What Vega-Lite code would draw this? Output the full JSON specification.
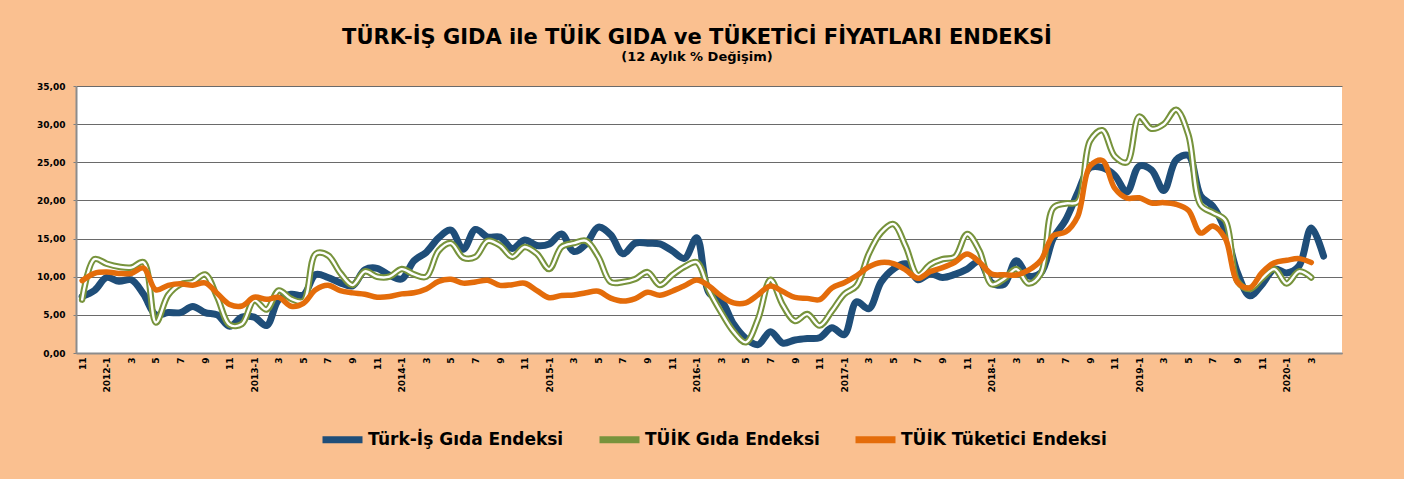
{
  "$schema": "https://vega.github.io/schema/vega-lite/v6.json",
  "width": 1266,
  "height": 267,
  "autosize": {"type": "none"},
  "padding": {"left": 76, "top": 86, "right": 62, "bottom": 126},
  "background": "#FAC090",
  "title": {
    "text": "TÜRK-İŞ GIDA ile TÜİK GIDA ve TÜKETİCİ FİYATLARI  ENDEKSİ",
    "subtitle": "(12 Aylık  % Değişim)",
    "font": "DejaVu Sans", "fontSize": 21, "fontWeight": "bold", "color": "#000000",
    "subtitleFont": "DejaVu Sans", "subtitleFontSize": 13, "subtitleFontWeight": "bold", "subtitleColor": "#000000",
    "anchor": "middle", "offset": 18, "dx": -12, "subtitlePadding": 3
  },
  "data": {"values": [
    {"ay": "2011-11", "turkis": 7.4, "tuik_gida": 7.0, "tuik_tufe": 9.48},
    {"ay": "2011-12", "turkis": 8.2, "tuik_gida": 12.3, "tuik_tufe": 10.45},
    {"ay": "2012-1", "turkis": 9.9, "tuik_gida": 11.7, "tuik_tufe": 10.61},
    {"ay": "2012-2", "turkis": 9.4, "tuik_gida": 11.3, "tuik_tufe": 10.43},
    {"ay": "2012-3", "turkis": 9.6, "tuik_gida": 11.2, "tuik_tufe": 10.43},
    {"ay": "2012-4", "turkis": 7.7, "tuik_gida": 11.9, "tuik_tufe": 11.14},
    {"ay": "2012-5", "turkis": 5.0, "tuik_gida": 4.0, "tuik_tufe": 8.28},
    {"ay": "2012-6", "turkis": 5.3, "tuik_gida": 7.6, "tuik_tufe": 8.87},
    {"ay": "2012-7", "turkis": 5.3, "tuik_gida": 9.0, "tuik_tufe": 9.07},
    {"ay": "2012-8", "turkis": 6.1, "tuik_gida": 9.3, "tuik_tufe": 8.88},
    {"ay": "2012-9", "turkis": 5.3, "tuik_gida": 10.3, "tuik_tufe": 9.19},
    {"ay": "2012-10", "turkis": 5.0, "tuik_gida": 7.3, "tuik_tufe": 7.80},
    {"ay": "2012-11", "turkis": 3.5, "tuik_gida": 3.7, "tuik_tufe": 6.37},
    {"ay": "2012-12", "turkis": 4.7, "tuik_gida": 3.8, "tuik_tufe": 6.16},
    {"ay": "2013-1", "turkis": 4.7, "tuik_gida": 6.9, "tuik_tufe": 7.31},
    {"ay": "2013-2", "turkis": 3.6, "tuik_gida": 5.7, "tuik_tufe": 7.03},
    {"ay": "2013-3", "turkis": 7.0, "tuik_gida": 8.2, "tuik_tufe": 7.29},
    {"ay": "2013-4", "turkis": 7.7, "tuik_gida": 7.1, "tuik_tufe": 6.13},
    {"ay": "2013-5", "turkis": 7.6, "tuik_gida": 6.8, "tuik_tufe": 6.51},
    {"ay": "2013-6", "turkis": 10.3, "tuik_gida": 13.0, "tuik_tufe": 8.30},
    {"ay": "2013-7", "turkis": 9.9, "tuik_gida": 12.8, "tuik_tufe": 8.88},
    {"ay": "2013-8", "turkis": 9.2, "tuik_gida": 10.5, "tuik_tufe": 8.17},
    {"ay": "2013-9", "turkis": 8.8, "tuik_gida": 8.9, "tuik_tufe": 7.88},
    {"ay": "2013-10", "turkis": 10.9, "tuik_gida": 10.7, "tuik_tufe": 7.71},
    {"ay": "2013-11", "turkis": 11.1, "tuik_gida": 10.0, "tuik_tufe": 7.32},
    {"ay": "2013-12", "turkis": 10.2, "tuik_gida": 10.0, "tuik_tufe": 7.40},
    {"ay": "2014-1", "turkis": 9.7, "tuik_gida": 11.0, "tuik_tufe": 7.75},
    {"ay": "2014-2", "turkis": 12.1, "tuik_gida": 10.3, "tuik_tufe": 7.89},
    {"ay": "2014-3", "turkis": 13.2, "tuik_gida": 10.0, "tuik_tufe": 8.39},
    {"ay": "2014-4", "turkis": 15.1, "tuik_gida": 13.4, "tuik_tufe": 9.38},
    {"ay": "2014-5", "turkis": 16.1, "tuik_gida": 14.4, "tuik_tufe": 9.66},
    {"ay": "2014-6", "turkis": 13.6, "tuik_gida": 12.5, "tuik_tufe": 9.16},
    {"ay": "2014-7", "turkis": 16.2, "tuik_gida": 12.6, "tuik_tufe": 9.32},
    {"ay": "2014-8", "turkis": 15.2, "tuik_gida": 14.7, "tuik_tufe": 9.54},
    {"ay": "2014-9", "turkis": 15.2, "tuik_gida": 14.1, "tuik_tufe": 8.86},
    {"ay": "2014-10", "turkis": 13.7, "tuik_gida": 12.6, "tuik_tufe": 8.96},
    {"ay": "2014-11", "turkis": 14.8, "tuik_gida": 13.9, "tuik_tufe": 9.15},
    {"ay": "2014-12", "turkis": 14.1, "tuik_gida": 13.0, "tuik_tufe": 8.17},
    {"ay": "2015-1", "turkis": 14.3, "tuik_gida": 11.0, "tuik_tufe": 7.24},
    {"ay": "2015-2", "turkis": 15.6, "tuik_gida": 13.9, "tuik_tufe": 7.55},
    {"ay": "2015-3", "turkis": 13.3, "tuik_gida": 14.4, "tuik_tufe": 7.61},
    {"ay": "2015-4", "turkis": 14.3, "tuik_gida": 14.7, "tuik_tufe": 7.91},
    {"ay": "2015-5", "turkis": 16.5, "tuik_gida": 12.6, "tuik_tufe": 8.09},
    {"ay": "2015-6", "turkis": 15.5, "tuik_gida": 9.3, "tuik_tufe": 7.20},
    {"ay": "2015-7", "turkis": 13.0, "tuik_gida": 9.3, "tuik_tufe": 6.81},
    {"ay": "2015-8", "turkis": 14.4, "tuik_gida": 9.7, "tuik_tufe": 7.14},
    {"ay": "2015-9", "turkis": 14.4, "tuik_gida": 10.6, "tuik_tufe": 7.95},
    {"ay": "2015-10", "turkis": 14.3, "tuik_gida": 8.9, "tuik_tufe": 7.58},
    {"ay": "2015-11", "turkis": 13.4, "tuik_gida": 10.2, "tuik_tufe": 8.10},
    {"ay": "2015-12", "turkis": 12.4, "tuik_gida": 11.3, "tuik_tufe": 8.81},
    {"ay": "2016-1", "turkis": 15.1, "tuik_gida": 11.9, "tuik_tufe": 9.58},
    {"ay": "2016-2", "turkis": 7.9, "tuik_gida": 8.2, "tuik_tufe": 8.78},
    {"ay": "2016-3", "turkis": 6.9, "tuik_gida": 5.3, "tuik_tufe": 7.46},
    {"ay": "2016-4", "turkis": 3.8, "tuik_gida": 2.8, "tuik_tufe": 6.57},
    {"ay": "2016-5", "turkis": 1.9, "tuik_gida": 1.4, "tuik_tufe": 6.58},
    {"ay": "2016-6", "turkis": 1.1, "tuik_gida": 4.5, "tuik_tufe": 7.64},
    {"ay": "2016-7", "turkis": 2.8, "tuik_gida": 9.6, "tuik_tufe": 8.79},
    {"ay": "2016-8", "turkis": 1.3, "tuik_gida": 6.3, "tuik_tufe": 8.05},
    {"ay": "2016-9", "turkis": 1.7, "tuik_gida": 4.2, "tuik_tufe": 7.28},
    {"ay": "2016-10", "turkis": 1.9, "tuik_gida": 5.1, "tuik_tufe": 7.16},
    {"ay": "2016-11", "turkis": 2.0, "tuik_gida": 3.6, "tuik_tufe": 7.00},
    {"ay": "2016-12", "turkis": 3.3, "tuik_gida": 5.5, "tuik_tufe": 8.53},
    {"ay": "2017-1", "turkis": 2.4, "tuik_gida": 7.7, "tuik_tufe": 9.22},
    {"ay": "2017-2", "turkis": 6.7, "tuik_gida": 8.8, "tuik_tufe": 10.13},
    {"ay": "2017-3", "turkis": 5.8, "tuik_gida": 13.0, "tuik_tufe": 11.29},
    {"ay": "2017-4", "turkis": 9.3, "tuik_gida": 15.8, "tuik_tufe": 11.87},
    {"ay": "2017-5", "turkis": 11.0, "tuik_gida": 16.9, "tuik_tufe": 11.72},
    {"ay": "2017-6", "turkis": 11.7, "tuik_gida": 14.0, "tuik_tufe": 10.90},
    {"ay": "2017-7", "turkis": 9.6, "tuik_gida": 10.2, "tuik_tufe": 9.79},
    {"ay": "2017-8", "turkis": 10.4, "tuik_gida": 11.6, "tuik_tufe": 10.68},
    {"ay": "2017-9", "turkis": 9.9, "tuik_gida": 12.3, "tuik_tufe": 11.20},
    {"ay": "2017-10", "turkis": 10.3, "tuik_gida": 12.6, "tuik_tufe": 11.90},
    {"ay": "2017-11", "turkis": 11.0, "tuik_gida": 15.6, "tuik_tufe": 12.98},
    {"ay": "2017-12", "turkis": 12.0, "tuik_gida": 13.4, "tuik_tufe": 11.92},
    {"ay": "2018-1", "turkis": 9.2, "tuik_gida": 9.0, "tuik_tufe": 10.35},
    {"ay": "2018-2", "turkis": 9.0, "tuik_gida": 9.7, "tuik_tufe": 10.26},
    {"ay": "2018-3", "turkis": 12.1, "tuik_gida": 11.0, "tuik_tufe": 10.23},
    {"ay": "2018-4", "turkis": 10.1, "tuik_gida": 9.1, "tuik_tufe": 10.85},
    {"ay": "2018-5", "turkis": 10.5, "tuik_gida": 10.4, "tuik_tufe": 12.15},
    {"ay": "2018-6", "turkis": 15.0, "tuik_gida": 19.0, "tuik_tufe": 15.39},
    {"ay": "2018-7", "turkis": 17.4, "tuik_gida": 19.6, "tuik_tufe": 15.85},
    {"ay": "2018-8", "turkis": 21.0, "tuik_gida": 19.8, "tuik_tufe": 17.90},
    {"ay": "2018-9", "turkis": 24.3, "tuik_gida": 27.8, "tuik_tufe": 24.52},
    {"ay": "2018-10", "turkis": 24.3, "tuik_gida": 29.2, "tuik_tufe": 25.24},
    {"ay": "2018-11", "turkis": 23.3, "tuik_gida": 25.8, "tuik_tufe": 21.62},
    {"ay": "2018-12", "turkis": 21.1, "tuik_gida": 25.0, "tuik_tufe": 20.30},
    {"ay": "2019-1", "turkis": 24.5, "tuik_gida": 31.0, "tuik_tufe": 20.35},
    {"ay": "2019-2", "turkis": 24.0, "tuik_gida": 29.4, "tuik_tufe": 19.67},
    {"ay": "2019-3", "turkis": 21.3, "tuik_gida": 30.0, "tuik_tufe": 19.71},
    {"ay": "2019-4", "turkis": 25.3, "tuik_gida": 31.9, "tuik_tufe": 19.50},
    {"ay": "2019-5", "turkis": 25.9, "tuik_gida": 28.6, "tuik_tufe": 18.71},
    {"ay": "2019-6", "turkis": 20.6, "tuik_gida": 19.4, "tuik_tufe": 15.72},
    {"ay": "2019-7", "turkis": 19.2, "tuik_gida": 18.4, "tuik_tufe": 16.65},
    {"ay": "2019-8", "turkis": 16.1, "tuik_gida": 17.4, "tuik_tufe": 15.01},
    {"ay": "2019-9", "turkis": 10.5, "tuik_gida": 9.4, "tuik_tufe": 9.26},
    {"ay": "2019-10", "turkis": 7.5, "tuik_gida": 8.4, "tuik_tufe": 8.55},
    {"ay": "2019-11", "turkis": 9.0, "tuik_gida": 9.8, "tuik_tufe": 10.56},
    {"ay": "2019-12", "turkis": 11.0, "tuik_gida": 11.0, "tuik_tufe": 11.84},
    {"ay": "2020-1", "turkis": 10.5, "tuik_gida": 9.1, "tuik_tufe": 12.15},
    {"ay": "2020-2", "turkis": 11.4, "tuik_gida": 10.7, "tuik_tufe": 12.37},
    {"ay": "2020-3", "turkis": 16.4, "tuik_gida": 9.9, "tuik_tufe": 11.86},
    {"ay": "2020-4", "turkis": 12.7, "tuik_gida": null, "tuik_tufe": null}
  ]},
  "transform": [
    {"fold": ["turkis", "tuik_gida", "tuik_tufe"], "as": ["seri", "deger"]},
    {"filter": "isValid(datum.deger)"}
  ],
  "encoding": {
    "x": {
      "field": "ay", "type": "ordinal",
      "scale": {"type": "point", "padding": 0.5, "domain": [
        "2011-11","2011-12",
        "2012-1","2012-2","2012-3","2012-4","2012-5","2012-6","2012-7","2012-8","2012-9","2012-10","2012-11","2012-12",
        "2013-1","2013-2","2013-3","2013-4","2013-5","2013-6","2013-7","2013-8","2013-9","2013-10","2013-11","2013-12",
        "2014-1","2014-2","2014-3","2014-4","2014-5","2014-6","2014-7","2014-8","2014-9","2014-10","2014-11","2014-12",
        "2015-1","2015-2","2015-3","2015-4","2015-5","2015-6","2015-7","2015-8","2015-9","2015-10","2015-11","2015-12",
        "2016-1","2016-2","2016-3","2016-4","2016-5","2016-6","2016-7","2016-8","2016-9","2016-10","2016-11","2016-12",
        "2017-1","2017-2","2017-3","2017-4","2017-5","2017-6","2017-7","2017-8","2017-9","2017-10","2017-11","2017-12",
        "2018-1","2018-2","2018-3","2018-4","2018-5","2018-6","2018-7","2018-8","2018-9","2018-10","2018-11","2018-12",
        "2019-1","2019-2","2019-3","2019-4","2019-5","2019-6","2019-7","2019-8","2019-9","2019-10","2019-11","2019-12",
        "2020-1","2020-2","2020-3","2020-4","2020-5"
      ]},
      "axis": {
        "title": null, "labelAngle": 270, "labelFontSize": 9, "ticks": false, "labelPadding": 4,
        "grid": false, "labelOverlap": false, "domainColor": "#8c8c8c", "domainWidth": 2,
        "labelExpr": "datum.value == '2020-5' ? '' : (toNumber(split(datum.value, '-')[1]) % 2 == 0 ? '' : (split(datum.value, '-')[1] == '1' ? datum.value : split(datum.value, '-')[1]))"
      }
    },
    "y": {
      "field": "deger", "type": "quantitative",
      "scale": {"domain": [0, 35], "nice": false, "zero": true},
      "axis": {
        "title": null, "values": [0, 5, 10, 15, 20, 25, 30, 35],
        "labelExpr": "replace(format(datum.value, '.2f'), '.', ',')",
        "labelFontSize": 9, "tickSize": 3, "tickColor": "#7f7f7f", "labelPadding": 8,
        "grid": true, "gridColor": "#6a6a6a", "gridWidth": 1, "domainColor": "#8c8c8c", "domainWidth": 2
      }
    }
  },
  "layer": [
    {
      "transform": [{"filter": "datum.seri == 'turkis'"}],
      "mark": {"type": "line", "interpolate": "catmull-rom", "strokeWidth": 7, "strokeCap": "round", "strokeJoin": "round"},
      "encoding": {"color": {"field": "seri", "type": "nominal",
        "scale": {"domain": ["turkis", "tuik_gida", "tuik_tufe"], "range": ["#1F4E79", "#77933C", "#E46C0A"]},
        "legend": {"orient": "none", "legendX": 243, "legendY": 330, "direction": "horizontal", "title": null,
          "symbolType": "stroke", "symbolSize": 1600, "symbolStrokeWidth": 7,
          "labelFont": "DejaVu Sans", "labelFontWeight": "bold", "labelFontSize": 17, "labelColor": "#000000",
          "labelLimit": 400, "labelOffset": 2, "columnPadding": 21,
          "labelExpr": "datum.label == 'turkis' ? 'Türk-İş Gıda Endeksi' : (datum.label == 'tuik_gida' ? 'TÜİK Gıda Endeksi' : 'TÜİK Tüketici Endeksi')"}}}
    },
    {
      "transform": [{"filter": "datum.seri == 'tuik_gida'"}],
      "mark": {"type": "line", "interpolate": "catmull-rom", "strokeWidth": 6.5, "strokeCap": "round", "strokeJoin": "round"},
      "encoding": {"color": {"field": "seri", "type": "nominal",
        "scale": {"domain": ["turkis", "tuik_gida", "tuik_tufe"], "range": ["#1F4E79", "#77933C", "#E46C0A"]},
        "legend": {"orient": "none", "legendX": 243, "legendY": 330, "direction": "horizontal", "title": null,
          "symbolType": "stroke", "symbolSize": 1600, "symbolStrokeWidth": 7,
          "labelFont": "DejaVu Sans", "labelFontWeight": "bold", "labelFontSize": 17, "labelColor": "#000000",
          "labelLimit": 400, "labelOffset": 2, "columnPadding": 21,
          "labelExpr": "datum.label == 'turkis' ? 'Türk-İş Gıda Endeksi' : (datum.label == 'tuik_gida' ? 'TÜİK Gıda Endeksi' : 'TÜİK Tüketici Endeksi')"}}}
    },
    {
      "transform": [{"filter": "datum.seri == 'tuik_gida'"}],
      "mark": {"type": "line", "interpolate": "catmull-rom", "strokeWidth": 2.4, "color": "#ffffff", "strokeCap": "round", "strokeJoin": "round"},
      "encoding": {}
    },
    {
      "transform": [{"filter": "datum.seri == 'tuik_tufe'"}],
      "mark": {"type": "line", "interpolate": "catmull-rom", "strokeWidth": 5.5, "strokeCap": "round", "strokeJoin": "round"},
      "encoding": {"color": {"field": "seri", "type": "nominal",
        "scale": {"domain": ["turkis", "tuik_gida", "tuik_tufe"], "range": ["#1F4E79", "#77933C", "#E46C0A"]},
        "legend": {"orient": "none", "legendX": 243, "legendY": 330, "direction": "horizontal", "title": null,
          "symbolType": "stroke", "symbolSize": 1600, "symbolStrokeWidth": 7,
          "labelFont": "DejaVu Sans", "labelFontWeight": "bold", "labelFontSize": 17, "labelColor": "#000000",
          "labelLimit": 400, "labelOffset": 2, "columnPadding": 21,
          "labelExpr": "datum.label == 'turkis' ? 'Türk-İş Gıda Endeksi' : (datum.label == 'tuik_gida' ? 'TÜİK Gıda Endeksi' : 'TÜİK Tüketici Endeksi')"}}}
    }
  ],
  "config": {
    "view": {"fill": "#ffffff", "stroke": null},
    "axis": {"labelFont": "DejaVu Sans", "labelFontWeight": "bold", "labelColor": "#000000"}
  }
}
